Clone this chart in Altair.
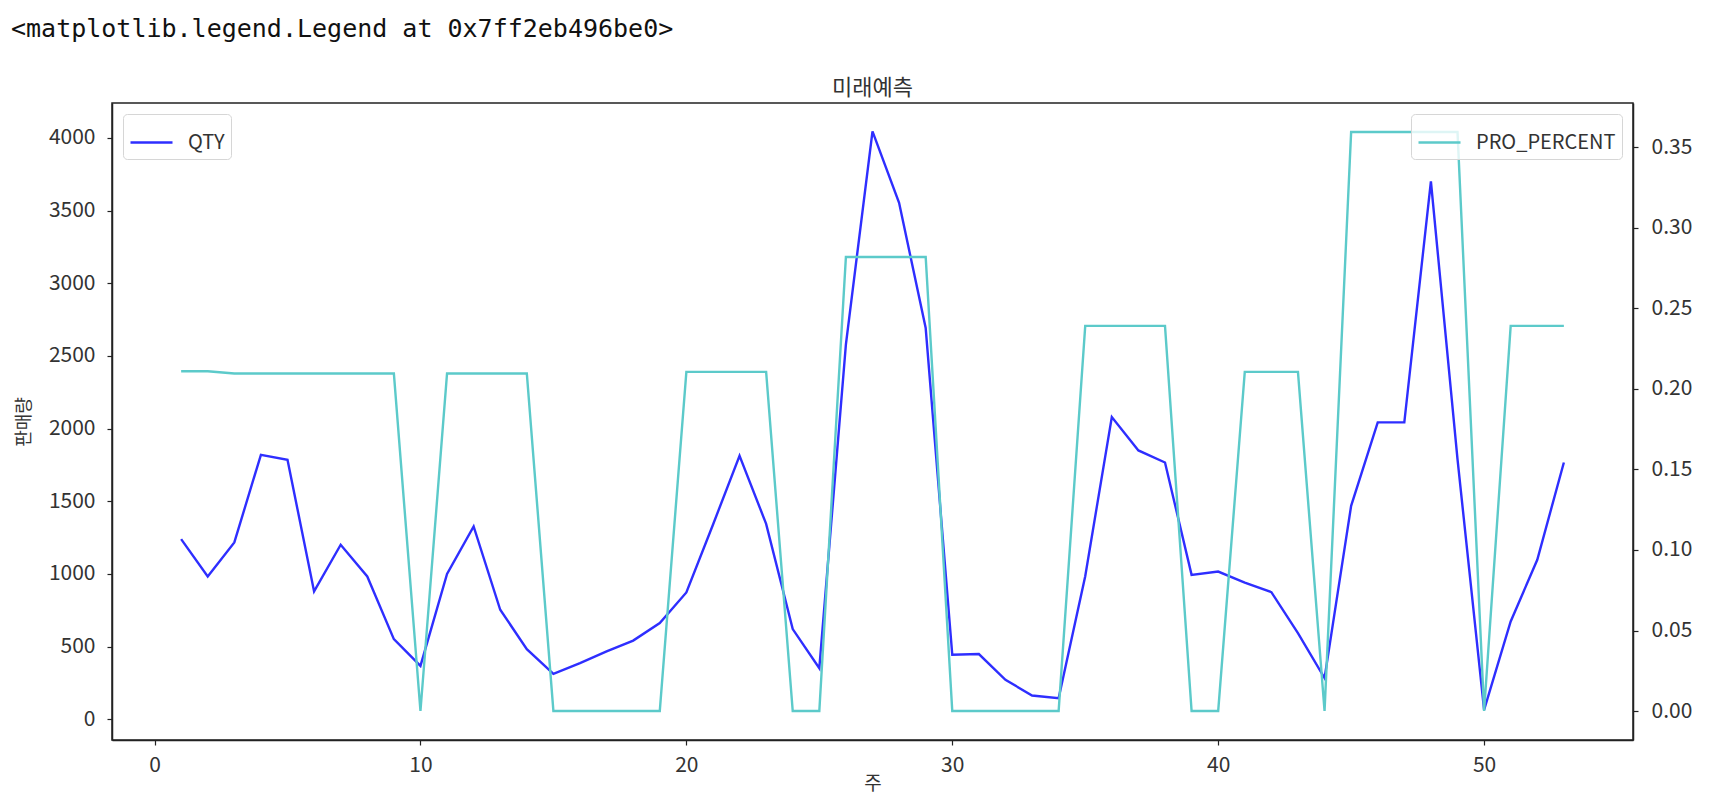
import altair as alt
import pandas as pd

# ---- data ----
weeks = list(range(1, 54))
qty = [1240, 983, 1217, 1820, 1786, 880, 1201, 983, 552, 368,
       1001, 1327, 754, 483, 313, 387, 467, 542, 662, 873,
       1339, 1813, 1345, 621, 352, 2580, 4045, 3553, 2692, 444,
       449, 272, 164, 146, 985, 2080, 1850, 1767, 994, 1017,
       941, 875, 593, 284, 1469, 2043, 2043, 3701, 1790, 65,
       673, 1098, 1767]
pro_percent = [0.2110, 0.2110, 0.2096, 0.2096, 0.2096, 0.2096, 0.2096, 0.2096, 0.2096, 0.0,
               0.2096, 0.2096, 0.2096, 0.2096, 0.0, 0.0, 0.0, 0.0, 0.0, 0.2106,
               0.2106, 0.2106, 0.2106, 0.0, 0.0, 0.2820, 0.2820, 0.2820, 0.2820, 0.0,
               0.0, 0.0, 0.0, 0.0, 0.2392, 0.2392, 0.2392, 0.2392, 0.0, 0.0,
               0.2106, 0.2106, 0.2106, 0.0, 0.3596, 0.3596, 0.3596, 0.3596, 0.3596, 0.0,
               0.2392, 0.2392, 0.2392]

x_ticks = [0, 10, 20, 30, 40, 50]
qty_ticks = [0, 500, 1000, 1500, 2000, 2500, 3000, 3500, 4000]
pct_ticks = [0.0, 0.05, 0.10, 0.15, 0.20, 0.25, 0.30, 0.35]

repr_text = "<matplotlib.legend.Legend at 0x7ff2eb496be0>"
title_text = "미래예측"
x_title = "주"
y_title = "판매량"

qty_df = pd.DataFrame({"week": weeks, "value": qty, "series": ["QTY"] * len(weeks)})
pct_df = pd.DataFrame({"week": weeks, "value": pro_percent, "series": ["PRO_PERCENT"] * len(weeks)})

W, H = 1521, 637
FONT = "Noto Sans CJK KR"
AX = "#222222"
LBL = "#333333"

x_scale = alt.Scale(domain=[-1.6, 55.6], nice=False, zero=False)

common_legend = dict(
    title=None, offset=11, padding=6, strokeColor="#d6d6d6", cornerRadius=4,
    fillColor="rgba(255,255,255,0.8)", symbolType="stroke", symbolSize=1764,
    symbolStrokeWidth=2.5, labelFont=FONT, labelFontSize=20, labelColor=LBL,
    labelOffset=14,
)

qty_line = alt.Chart(qty_df).mark_line(strokeWidth=2.4).encode(
    x=alt.X("week:Q", scale=x_scale,
            axis=alt.Axis(values=x_ticks, title=x_title, grid=False, labelPadding=9,
                          titleFont=FONT, titleFontSize=19, titleFontWeight="normal",
                          titleColor=LBL, titleX=W / 2, titleY=43, titleBaseline="middle",
                          titleAlign="center")),
    y=alt.Y("value:Q", scale=alt.Scale(domain=[-142, 4240], nice=False, zero=False),
            axis=alt.Axis(values=qty_ticks, format="d", title=y_title, grid=False,
                          labelPadding=12, titleFont=FONT, titleFontSize=18,
                          titleFontWeight="normal", titleColor=LBL, titleX=-88,
                          titleY=H / 2, titleAngle=270, titleAlign="center",
                          titleBaseline="middle")),
    color=alt.Color("series:N", scale=alt.Scale(domain=["QTY"], range=["#2e2eff"]),
                    legend=alt.Legend(orient="top-left", **common_legend)),
)

pct_line = alt.Chart(pct_df).mark_line(strokeWidth=2.4).encode(
    x=alt.X("week:Q", scale=x_scale),
    y=alt.Y("value:Q", scale=alt.Scale(domain=[-0.018, 0.3776], nice=False, zero=False),
            axis=alt.Axis(orient="right", values=pct_ticks, format=".2f", title=None,
                          grid=False, labelPadding=13)),
    color=alt.Color("series:N", scale=alt.Scale(domain=["PRO_PERCENT"], range=["#5ccaca"]),
                    legend=alt.Legend(orient="top-right", **common_legend)),
)

repr_mark = alt.Chart(pd.DataFrame({"t": [repr_text]})).mark_text(
    align="left", baseline="middle", font="DejaVu Sans Mono", fontSize=25, color="#111111"
).encode(text="t:N", x=alt.value(-101), y=alt.value(-74))

title_mark = alt.Chart(pd.DataFrame({"t": [title_text]})).mark_text(
    align="center", baseline="middle", font=FONT, fontSize=22, color=LBL
).encode(text="t:N", x=alt.value(W / 2), y=alt.value(-15))

chart = alt.layer(qty_line, pct_line, repr_mark, title_mark).resolve_scale(
    y="independent", color="independent"
).properties(
    width=W, height=H,
    autosize=alt.AutoSizeParams(type="none"),
    padding={"left": 104, "top": 95, "right": 70, "bottom": 56},
).configure_view(
    stroke=AX, strokeWidth=1.5
).configure_axis(
    domainColor=AX, domainWidth=1.5, tickColor=AX, tickWidth=1.2, tickSize=5,
    labelFont=FONT, labelFontSize=21, labelColor=LBL,
)

chart.save("out.html", embed_options={"renderer": "svg", "actions": False})
